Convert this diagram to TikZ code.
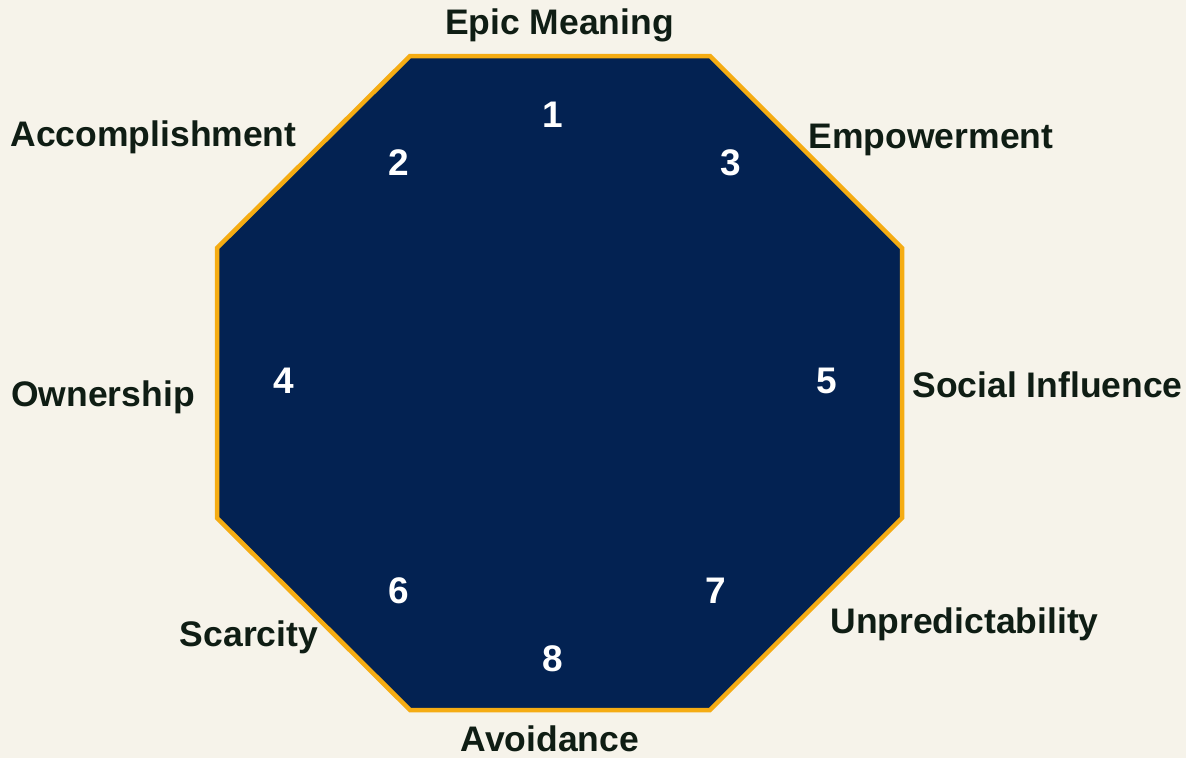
\documentclass[tikz,border=0pt]{standalone}
\usepackage{fontspec}
\setmainfont{Liberation Sans}
\definecolor{bgc}{HTML}{F6F3EA}
\definecolor{navy}{HTML}{032252}
\definecolor{gold}{HTML}{F5AC13}
\definecolor{ink}{HTML}{0F1D14}
\begin{document}
\begin{tikzpicture}[x=1pt,y=-1pt,
  lbl/.style={anchor=base,text=ink,font=\fontsize{35.5}{40}\selectfont\bfseries,inner sep=0pt},
  num/.style={anchor=base,text=white,font=\fontsize{37}{40}\selectfont\bfseries,inner sep=0pt}]
\fill[bgc] (0,0) rectangle (1186,758);
\useasboundingbox (0,0) rectangle (1186,758);
\coordinate (v1) at (410,56);
\coordinate (v2) at (710,56);
\coordinate (v3) at (902,248);
\coordinate (v4) at (902,518);
\coordinate (v5) at (710,710);
\coordinate (v6) at (410,710);
\coordinate (v7) at (217,518);
\coordinate (v8) at (217,248);
\draw[fill=navy,draw=gold,line width=4.5pt,line join=miter] (v1)--(v2)--(v3)--(v4)--(v5)--(v6)--(v7)--(v8)--cycle;
\node[num] (n1) at (553,127) {1};
\node[num] (n2) at (399,175) {2};
\node[num] (n3) at (731,175) {3};
\node[num] (n4) at (284,393) {4};
\node[num] (n5) at (827,393) {5};
\node[num] (n6) at (399,603) {6};
\node[num] (n7) at (716,603) {7};
\node[num] (n8) at (553,671) {8};
\node[lbl] (l1) at (559.5,34) {Epic Meaning};
\node[lbl] (l2) at (153.5,146) {Accomplishment};
\node[lbl] (l3) at (931,148) {Empowerment};
\node[lbl] (l4) at (103,406) {Ownership};
\node[lbl] (l5) at (1047.5,397) {Social Influence};
\node[lbl] (l6) at (249,646) {Scarcity};
\node[lbl] (l7) at (964.5,633) {Unpredictability};
\node[lbl] (l8) at (550,751) {Avoidance};
\end{tikzpicture}
\end{document}
